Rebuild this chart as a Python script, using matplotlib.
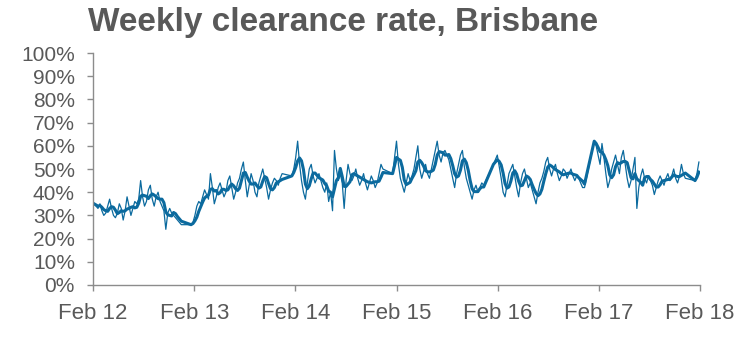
import matplotlib
matplotlib.use("Agg")
import matplotlib.pyplot as plt
import pandas as pd
from matplotlib.ticker import PercentFormatter

# weekly clearance rate (%), one list per auction season (weekly from the start date)
season_starts = ["2012-02-05", "2013-01-20", "2014-01-19", "2015-01-18",
                 "2016-01-17", "2017-01-15", "2018-01-14"]

rate_2012 = [35, 34, 33, 35, 32, 30, 31, 34, 37, 33,
             30, 29, 31, 35, 33, 28, 32, 38, 34, 30,
             33, 36, 35, 37, 45, 38, 34, 36, 41, 43,
             37, 34, 38, 40, 36, 34, 32, 24, 31, 33,
             31, 30, 29, 28, 27, 26]
rate_2013 = [26, 27, 30, 34, 36, 35, 38, 41, 39, 37,
             48, 42, 35, 38, 42, 44, 41, 38, 40, 45,
             47, 42, 37, 40, 44, 46, 50, 53, 45, 38,
             43, 48, 45, 40, 38, 44, 47, 50, 46, 42,
             37, 41, 44, 46, 45, 43, 46, 48]
rate_2014 = [47, 50, 55, 62, 52, 45, 40, 37, 44, 50,
             52, 47, 44, 46, 48, 45, 42, 40, 44, 36,
             40, 32, 58, 50, 45, 48, 44, 33, 45, 52,
             48, 45, 47, 50, 46, 43, 45, 48, 44, 41,
             44, 47, 45, 42, 44, 48, 52, 50]
rate_2015 = [48, 55, 62, 52, 46, 43, 40, 44, 48, 45,
             47, 50, 55, 60, 50, 46, 49, 52, 48, 46,
             50, 54, 58, 62, 56, 53, 57, 58, 56, 54,
             50, 46, 42, 48, 52, 56, 58, 51, 46, 43,
             40, 37, 41, 43, 40, 42, 44, 43]
rate_2016 = [52, 54, 56, 51, 46, 40, 38, 43, 48, 50,
             52, 47, 42, 38, 44, 48, 50, 46, 42, 44,
             41, 38, 35, 40, 44, 46, 49, 53, 55, 50,
             47, 50, 52, 48, 45, 47, 50, 49, 46, 48,
             50, 47, 45, 47, 46, 44, 42, 42]
rate_2017 = [62, 60, 56, 52, 61, 55, 48, 42, 45, 50,
             53, 56, 52, 48, 55, 58, 52, 46, 42, 45,
             50, 55, 33, 42, 47, 50, 46, 44, 47, 45,
             43, 39, 42, 45, 47, 45, 43, 46, 48, 45,
             47, 50, 46, 44, 47, 52, 48, 46]
rate_2018 = [45, 48, 53]

seasons = [rate_2012, rate_2013, rate_2014, rate_2015, rate_2016, rate_2017, rate_2018]

tick_dates = ["2012-02-01", "2013-02-01", "2014-02-01", "2015-02-01",
              "2016-02-01", "2017-02-01", "2018-02-01"]
tick_labels = ["Feb 12", "Feb 13", "Feb 14", "Feb 15", "Feb 16", "Feb 17", "Feb 18"]

weekly_parts, avg_parts = [], []
for start, vals in zip(season_starts, seasons):
    idx = pd.date_range(start, periods=len(vals), freq="7D")
    s = pd.Series(vals, index=idx, dtype=float)
    weekly_parts.append(s)
    # 4-week average, restarting each season
    avg_parts.append(s.rolling(4, min_periods=1).mean())
weekly = pd.concat(weekly_parts)
avg4 = pd.concat(avg_parts)

blue = "#0b6a9e"
grey = "#595959"
axis_grey = "#8c8c8c"

plt.rcParams["font.family"] = ["Liberation Sans", "DejaVu Sans"]

fig = plt.figure(figsize=(7.51, 3.41), dpi=100)
ax = fig.add_axes([93 / 751, 56 / 341, 607 / 751, 232 / 341])

ax.plot(weekly.index, weekly.values, color=blue, lw=0.9)
ax.plot(avg4.index, avg4.values, color=blue, lw=2.2)

ax.set_ylim(0, 100)
ax.set_yticks(range(0, 101, 10))
ax.yaxis.set_major_formatter(PercentFormatter(decimals=0))

ax.set_xlim(pd.Timestamp(tick_dates[0]), pd.Timestamp(tick_dates[-1]))
ax.set_xticks([pd.Timestamp(d) for d in tick_dates])
ax.set_xticklabels(tick_labels)

for s in ["top", "right"]:
    ax.spines[s].set_visible(False)
for s in ["left", "bottom"]:
    ax.spines[s].set_color(axis_grey)
    ax.spines[s].set_linewidth(1)

ax.tick_params(axis="y", direction="out", length=4, width=1, color=axis_grey,
               labelsize=15, labelcolor=grey, pad=9)
ax.tick_params(axis="x", direction="out", length=4, width=1, color=axis_grey,
               labelsize=16, labelcolor=grey, pad=9)

fig.text(88 / 751, 1 - 7 / 341, "Weekly clearance rate, Brisbane", ha="left", va="top",
         fontsize=24, fontweight="bold", color=grey)

fig.savefig("out.png", dpi=100)
